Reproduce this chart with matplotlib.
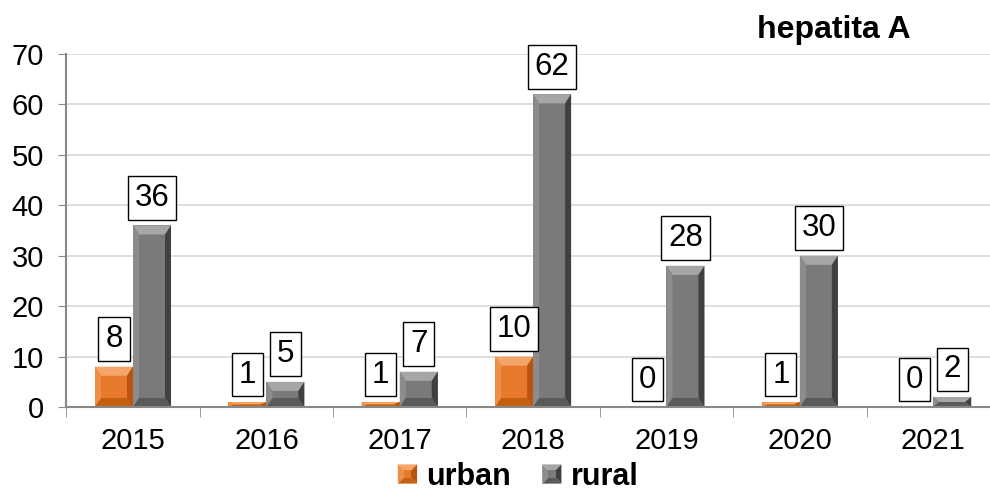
import matplotlib.pyplot as plt
import numpy as np
from matplotlib.patches import Polygon, Rectangle
from matplotlib.legend_handler import HandlerBase

plt.rcParams['font.family'] = ['Liberation Sans', 'DejaVu Sans']

years = ['2015', '2016', '2017', '2018', '2019', '2020', '2021']
urban = [8, 1, 1, 10, 0, 1, 0]
rural = [36, 5, 7, 62, 28, 30, 2]

# face, top bevel, left bevel, right bevel, bottom bevel
ORANGE = ['#e8792c', '#f4a56a', '#ef8e45', '#b8540f', '#c4600f']
GREY = ['#7a7a7a', '#a6a6a6', '#8c8c8c', '#404040', '#5a5a5a']


def bevel_bar(ax, x0, w, h, cols, bx=0.045, by=1.8):
    x1 = x0 + w
    if h <= 0:
        return
    by = min(by, h / 2)
    bx_ = min(bx, w / 2)
    ax.add_patch(Rectangle((x0, 0), w, h, color=cols[0], lw=0, zorder=2))
    polys = [
        ([(x0, h), (x1, h), (x1 - bx_, h - by), (x0 + bx_, h - by)], cols[1]),
        ([(x0, 0), (x0 + bx_, by), (x0 + bx_, h - by), (x0, h)], cols[2]),
        ([(x1, 0), (x1 - bx_, by), (x1 - bx_, h - by), (x1, h)], cols[3]),
        ([(x0, 0), (x1, 0), (x1 - bx_, by), (x0 + bx_, by)], cols[4]),
    ]
    for pts, c in polys:
        ax.add_patch(Polygon(pts, closed=True, color=c, lw=0, zorder=2))


class BevelHandler(HandlerBase):
    def __init__(self, cols):
        super().__init__()
        self.cols = cols

    def create_artists(self, legend, orig_handle, xdescent, ydescent,
                       width, height, fontsize, trans):
        s = height * 0.9
        x0 = width - s
        y0 = -ydescent + (height - s) / 2
        x1, y1 = x0 + s, y0 + s
        b = s * 0.3
        cx, cy = x0 + s / 2, y0 + s / 2
        c = self.cols
        arts = [
            Polygon([(x0, y1), (x1, y1), (cx, cy)], color=c[1], lw=0),
            Polygon([(x0, y0), (x0, y1), (cx, cy)], color=c[2], lw=0),
            Polygon([(x1, y0), (x1, y1), (cx, cy)], color=c[3], lw=0),
            Polygon([(x0, y0), (x1, y0), (cx, cy)], color=c[4], lw=0),
            Rectangle((x0 + b, y0 + b), s - 2 * b, s - 2 * b, color=c[0], lw=0),
        ]
        for a in arts:
            a.set_transform(trans)
        return arts


fig = plt.figure(figsize=(9.9, 4.94), dpi=100)
ax = fig.add_axes([0.067, 0.176, 0.943, 0.715])

x = np.arange(len(years))
w = 0.285
box = dict(boxstyle='square,pad=0.22', fc='white', ec='black', lw=1)
for i in x:
    bevel_bar(ax, i - w, w, urban[i], ORANGE)
    bevel_bar(ax, i, w, rural[i], GREY)
    ax.annotate(str(urban[i]), (i - w / 2, urban[i]), xytext=(0, 9),
                textcoords='offset points', ha='center', va='bottom',
                fontsize=22.5, bbox=box, zorder=4)
    ax.annotate(str(rural[i]), (i + w / 2, rural[i]), xytext=(0, 9),
                textcoords='offset points', ha='center', va='bottom',
                fontsize=22.5, bbox=box, zorder=4)

ax.set_xlim(-0.5, len(years) - 0.5)
ax.set_ylim(0, 70)
ax.set_yticks(range(0, 71, 10))
ax.set_xticks(x)
ax.set_xticklabels(years)
ax.set_xticks(np.arange(-0.5, len(years), 1), minor=True)
ax.tick_params(axis='x', which='major', length=0, pad=14, labelsize=21)
ax.tick_params(axis='x', which='minor', length=7, color='#888888')
ax.tick_params(axis='y', length=6, color='#888888', pad=10, labelsize=21)
ax.grid(axis='y', color='#d9d9d9', lw=1.2)
ax.set_axisbelow(True)
for s in ['top', 'right']:
    ax.spines[s].set_visible(False)
for s in ['left', 'bottom']:
    ax.spines[s].set_color('#888888')
    ax.spines[s].set_linewidth(1.5)

fig.text(0.765, 0.94, 'hepatita A', fontsize=23, fontweight='bold',
         ha='left', va='center')

hu = Rectangle((0, 0), 1, 1)
hr = Rectangle((0, 0), 1, 1)
fig.legend([hu, hr], ['urban', 'rural'], loc='center', ncol=2,
           bbox_to_anchor=(0.523, 0.035), frameon=False,
           prop={'size': 22, 'weight': 'bold'}, handlelength=0.65,
           handletextpad=0.3, columnspacing=1.0,
           handler_map={hu: BevelHandler(ORANGE), hr: BevelHandler(GREY)})

fig.savefig('out.png', dpi=100)
